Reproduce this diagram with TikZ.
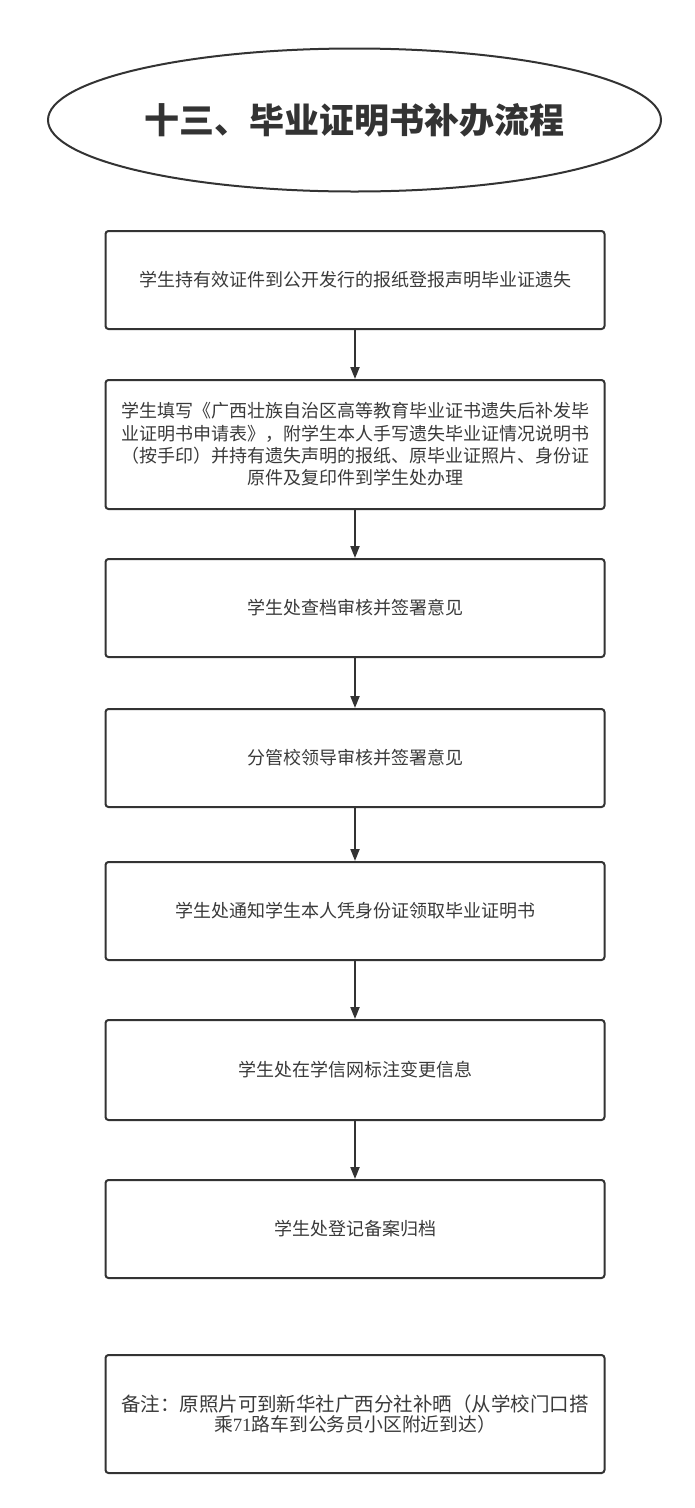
\documentclass[tikz,border=0pt]{standalone}
\usepackage{fontspec}
\setmainfont{Noto Sans CJK SC}
\newfontfamily\latinserif{Liberation Serif}
\usetikzlibrary{arrows.meta,shapes.geometric}
\definecolor{ink}{HTML}{333333}
\definecolor{txt}{HTML}{3A3A3A}
\tikzset{
  stepbox/.style={draw=ink, line width=2pt, rounded corners=3pt, minimum width=499pt,
    text=txt, align=center, font=\fontsize{18}{22.4}\selectfont, inner sep=0pt},
  flow/.style={draw=ink, line width=2pt, -{Triangle[length=12pt,width=9pt]}}
}
\begin{document}
\begin{tikzpicture}[x=1pt,y=-1pt]
\useasboundingbox (0,0) rectangle (694,1508);
\node[ellipse, draw=ink, line width=2pt, minimum width=613pt, minimum height=143pt, inner sep=0pt,
  text=ink, font=\fontsize{35}{40}\selectfont\bfseries] (title) at (354.5,120) {十三、毕业证明书补办流程};
\node[stepbox, minimum height=98pt] (b1) at (355,280) {学生持有效证件到公开发行的报纸登报声明毕业证遗失};
\node[stepbox, minimum height=129pt] (b2) at (355,444.5) {学生填写《广西壮族自治区高等教育毕业证书遗失后补发毕\\业证明书申请表》，附学生本人手写遗失毕业证情况说明书\\（按手印）并持有遗失声明的报纸、原毕业证照片、身份证\\原件及复印件到学生处办理};
\node[stepbox, minimum height=98pt] (b3) at (355,608) {学生处查档审核并签署意见};
\node[stepbox, minimum height=98pt] (b4) at (355,758) {分管校领导审核并签署意见};
\node[stepbox, minimum height=98pt] (b5) at (355,911) {学生处通知学生本人凭身份证领取毕业证明书};
\node[stepbox, minimum height=100pt] (b6) at (355,1070) {学生处在学信网标注变更信息};
\node[stepbox, minimum height=98pt] (b7) at (355,1229) {学生处登记备案归档};
\node[stepbox, minimum height=118pt, font=\fontsize{19.5}{19.5}\selectfont] (b8) at (355,1414)
  {备注：原照片可到新华社广西分社补晒（从学校门口搭\\\fontsize{18.8}{19.5}\selectfont 乘{\latinserif 71}路车到公务员小区附近到达）};
\draw[flow] (b1) -- (b2);
\draw[flow] (b2) -- (b3);
\draw[flow] (b3) -- (b4);
\draw[flow] (b4) -- (b5);
\draw[flow] (b5) -- (b6);
\draw[flow] (b6) -- (b7);
\end{tikzpicture}
\end{document}
